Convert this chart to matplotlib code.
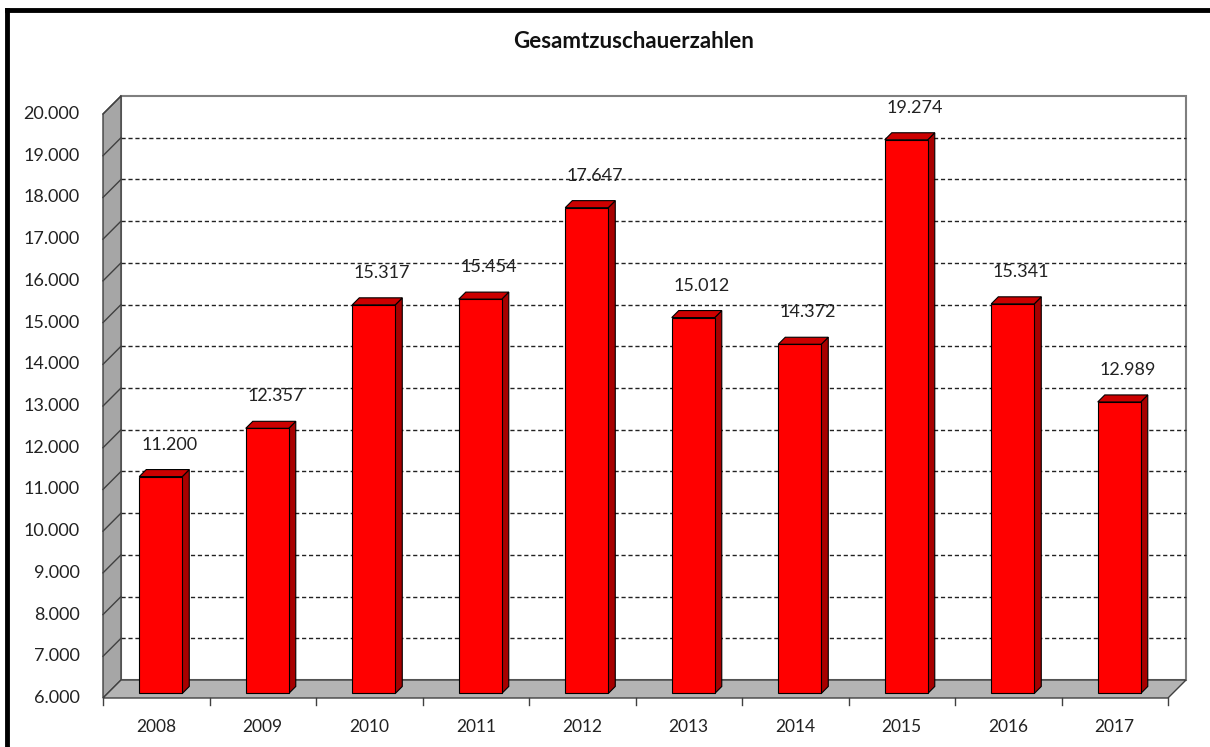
import matplotlib.pyplot as plt
from matplotlib.patches import Polygon, Rectangle
from matplotlib.lines import Line2D

plt.rcParams['font.family'] = ['Lato', 'DejaVu Sans']

# data
years = ['2008', '2009', '2010', '2011', '2012', '2013', '2014', '2015', '2016', '2017']
zuschauer = [11200, 12357, 15317, 15454, 17647, 15012, 14372, 19274, 15341, 12989]
ytick_vals = list(range(6000, 20001, 1000))
ytick_labels = ['{:,}'.format(v).replace(',', '.') for v in ytick_vals]
bar_labels = ['{:,}'.format(v).replace(',', '.') for v in zuschauer]

fig = plt.figure(figsize=(12.1, 7.47), dpi=100)
# axes: x in category units, y in thousands (front plane)
ax = fig.add_axes([103 / 1210, 1 - 698 / 747, 1065 / 1210, 584 / 747])
ax.set_xlim(0, 10)
ax.set_ylim(6, 20)
ax.axis('off')

n = len(years)
DX = 18 / 106.5   # depth offset in x units
DY = 18 / 41.71   # depth offset in y units
ymin, ymax = 6, 20

# back wall
ax.add_patch(Rectangle((DX, ymin + DY), n, ymax - ymin, facecolor='white',
                       edgecolor='#7f7f7f', lw=1.5, clip_on=False, zorder=1))
for v in range(ymin + 1, ymax):
    ax.plot([DX, n + DX], [v + DY, v + DY], ls=(0, (3, 2)), color='#222222',
            lw=1.0, clip_on=False, zorder=2)

# left wall
ax.add_patch(Polygon([(0, ymin), (0, ymax), (DX, ymax + DY), (DX, ymin + DY)],
                     closed=True, facecolor='#a6a6a6', edgecolor='#404040',
                     lw=1.0, clip_on=False, zorder=3))
for v in range(ymin + 1, ymax + 1):
    ax.plot([0, DX], [v, v + DY], color='#404040', lw=1.0, clip_on=False, zorder=3)

# floor
ax.add_patch(Polygon([(0, ymin), (n, ymin), (n + DX, ymin + DY), (DX, ymin + DY)],
                     closed=True, facecolor='#b4b4b4', edgecolor='#404040',
                     lw=1.0, clip_on=False, zorder=3))

# x ticks under floor
for i in range(n + 1):
    ax.plot([i, i], [ymin, ymin - 0.17], color='#404040', lw=1.0, clip_on=False, zorder=3)

# bars
w = 43 / 106.5
d0, d1 = 0.25, 0.64
for i, val in enumerate(zuschauer):
    v = val / 1000
    x0 = i + 0.5 - w / 2 + d0 * DX
    y0 = ymin + d0 * DY
    y1 = v + d0 * DY
    ddx = (d1 - d0) * DX
    ddy = (d1 - d0) * DY
    side = [(x0 + w, y0), (x0 + w + ddx, y0 + ddy), (x0 + w + ddx, y1 + ddy), (x0 + w, y1)]
    top = [(x0, y1), (x0 + w, y1), (x0 + w + ddx, y1 + ddy), (x0 + ddx, y1 + ddy)]
    ax.add_patch(Polygon(side, closed=True, facecolor='#a80000', edgecolor='black',
                         lw=0.8, clip_on=False, zorder=4))
    ax.add_patch(Polygon(top, closed=True, facecolor='#cc0000', edgecolor='black',
                         lw=0.8, clip_on=False, zorder=4))
    ax.add_patch(Rectangle((x0, y0), w, y1 - y0, facecolor='#ff0000', edgecolor='black',
                           lw=0.8, clip_on=False, zorder=4))
    ax.annotate(bar_labels[i], (x0 + w / 2, y1), xytext=(6, 23), textcoords='offset points',
                ha='center', va='center', fontsize=13, color='#222222', zorder=5)

# category labels
for i, lab in enumerate(years):
    ax.annotate(lab, (i + 0.5, ymin), xytext=(0, -21), textcoords='offset points',
                ha='center', va='center', fontsize=12.5, color='#222222')

# y tick labels
for v, lab in zip(ytick_vals, ytick_labels):
    ax.annotate(lab, (0, v / 1000), xytext=(-17, 0), textcoords='offset points',
                ha='right', va='center', fontsize=13, color='#222222')

fig.text(634 / 1210, 1 - 42 / 747, 'Gesamtzuschauerzahlen', ha='center', va='center',
         fontsize=16, fontweight='bold', color='#111111')

# outer frame (left and top only visible)
fig.add_artist(Line2D([7 / 1210, 7 / 1210], [0, 1 - 10 / 747], color='black', lw=3.5,
                      transform=fig.transFigure, solid_capstyle='projecting'))
fig.add_artist(Line2D([7 / 1210, 1], [1 - 10 / 747, 1 - 10 / 747], color='black', lw=3.5,
                      transform=fig.transFigure, solid_capstyle='projecting'))

fig.savefig('out.png', dpi=100)
